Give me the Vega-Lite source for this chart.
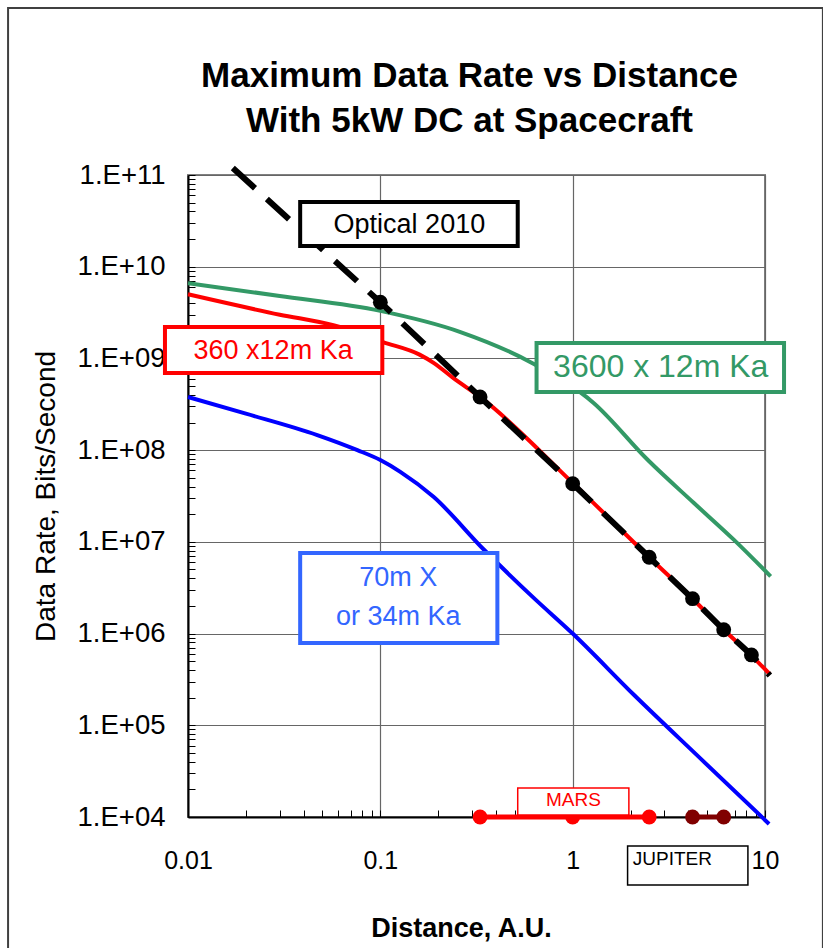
{
  "$schema": "https://vega.github.io/schema/vega-lite/v6.json",
  "width": 577,
  "height": 642,
  "autosize": {"type": "none"},
  "padding": {"left": 188, "top": 175, "right": 58, "bottom": 131},
  "background": "white",
  "config": {
    "font": "Liberation Sans",
    "view": {"stroke": "#808080", "strokeWidth": 2}
  },
  "title": {
    "text": ["Maximum Data Rate vs Distance", "With 5kW DC at Spacecraft"],
    "font": "Liberation Sans",
    "fontSize": 35,
    "fontWeight": "bold",
    "color": "black",
    "anchor": "middle",
    "frame": "group",
    "baseline": "bottom",
    "lineHeight": 45,
    "offset": -167,
    "dx": -7
  },
  "datasets": {
    "curves": [
      {"s": "3600 x 12m Ka", "x": 0.01, "y": 6.6e9},
      {"s": "3600 x 12m Ka", "x": 0.03, "y": 4.8e9},
      {"s": "3600 x 12m Ka", "x": 0.1, "y": 3.3e9},
      {"s": "3600 x 12m Ka", "x": 0.261, "y": 1.94e9},
      {"s": "3600 x 12m Ka", "x": 0.604, "y": 9.1e8},
      {"s": "3600 x 12m Ka", "x": 1.285, "y": 3.27e8},
      {"s": "3600 x 12m Ka", "x": 2.46, "y": 7.8e7},
      {"s": "3600 x 12m Ka", "x": 4.27, "y": 2.65e7},
      {"s": "3600 x 12m Ka", "x": 6.9, "y": 1.05e7},
      {"s": "3600 x 12m Ka", "x": 10.7, "y": 4.2e6},
      {"s": "70m X or 34m Ka", "x": 0.01, "y": 3.8e8},
      {"s": "70m X or 34m Ka", "x": 0.02, "y": 2.5e8},
      {"s": "70m X or 34m Ka", "x": 0.047, "y": 1.46e8},
      {"s": "70m X or 34m Ka", "x": 0.076, "y": 1.0e8},
      {"s": "70m X or 34m Ka", "x": 0.1, "y": 7.8e7},
      {"s": "70m X or 34m Ka", "x": 0.127, "y": 5.8e7},
      {"s": "70m X or 34m Ka", "x": 0.189, "y": 3.1e7},
      {"s": "70m X or 34m Ka", "x": 0.344, "y": 8.3e6},
      {"s": "70m X or 34m Ka", "x": 0.627, "y": 2.45e6},
      {"s": "70m X or 34m Ka", "x": 1, "y": 1.0e6},
      {"s": "70m X or 34m Ka", "x": 2.08, "y": 2.15e5},
      {"s": "70m X or 34m Ka", "x": 4.64, "y": 4.3e4},
      {"s": "70m X or 34m Ka", "x": 10.5, "y": 8.4e3},
      {"s": "360 x12m Ka", "x": 0.01, "y": 5.0e9},
      {"s": "360 x12m Ka", "x": 0.03, "y": 3.0e9},
      {"s": "360 x12m Ka", "x": 0.057, "y": 2.3e9},
      {"s": "360 x12m Ka", "x": 0.104, "y": 1.5e9},
      {"s": "360 x12m Ka", "x": 0.16, "y": 1.1e9},
      {"s": "360 x12m Ka", "x": 0.19, "y": 8.9e8},
      {"s": "360 x12m Ka", "x": 0.24, "y": 6.1e8},
      {"s": "360 x12m Ka", "x": 0.33, "y": 3.8e8},
      {"s": "360 x12m Ka", "x": 1, "y": 4.4e7},
      {"s": "360 x12m Ka", "x": 2.5, "y": 6.8e6},
      {"s": "360 x12m Ka", "x": 4.2, "y": 2.4e6},
      {"s": "360 x12m Ka", "x": 6.1, "y": 1.1e6},
      {"s": "360 x12m Ka", "x": 8.4, "y": 5.9e5},
      {"s": "360 x12m Ka", "x": 10.6, "y": 3.6e5}
    ],
    "optical": [
      {"x": 0.0171, "y": 1.19e11},
      {"x": 0.1, "y": 4.1e9},
      {"x": 0.33, "y": 3.8e8},
      {"x": 1, "y": 4.3e7},
      {"x": 2.5, "y": 6.8e6},
      {"x": 4.2, "y": 2.4e6},
      {"x": 6.1, "y": 1.1e6},
      {"x": 8.5, "y": 5.85e5},
      {"x": 10.6, "y": 3.5e5}
    ],
    "dots": [
      {"x": 0.1, "y": 4.1e9},
      {"x": 0.33, "y": 3.8e8},
      {"x": 1, "y": 4.3e7},
      {"x": 2.5, "y": 6.8e6},
      {"x": 4.2, "y": 2.4e6},
      {"x": 6.1, "y": 1.1e6},
      {"x": 8.5, "y": 5.85e5}
    ],
    "planets": [
      {"s": "Mars", "x": 0.33, "y": 1e4},
      {"s": "Mars", "x": 1, "y": 1e4},
      {"s": "Mars", "x": 2.5, "y": 1e4},
      {"s": "Jupiter", "x": 4.2, "y": 1e4},
      {"s": "Jupiter", "x": 6.1, "y": 1e4}
    ]
  },
  "encoding": {
    "x": {
      "field": "x",
      "type": "quantitative",
      "scale": {"type": "log", "domain": [0.01, 10], "nice": false},
      "axis": {
        "title": "Distance, A.U.",
        "values": [0.01, 0.02, 0.03, 0.04, 0.05, 0.06, 0.07, 0.08, 0.09, 0.1, 0.2, 0.3, 0.4, 0.5, 0.6, 0.7, 0.8, 0.9, 1, 2, 3, 4, 5, 6, 7, 8, 9, 10],
        "labelExpr": "abs(log(datum.value)/LN10 - round(log(datum.value)/LN10)) < 0.001 ? '' + datum.value : ''",
        "labelOverlap": false,
        "labelFlush": false,
        "labelFont": "Liberation Sans",
        "labelFontSize": 25,
        "labelColor": "black",
        "labelPadding": 38,
        "grid": true,
        "gridColor": "#666666",
        "gridWidth": 1.2,
        "gridOpacity": {"condition": {"test": "abs(log(datum.value)/LN10 - round(log(datum.value)/LN10)) < 0.001", "value": 1}, "value": 0},
        "tickSize": -7,
        "tickColor": "black",
        "tickWidth": 1,
        "domainColor": "black",
        "domainWidth": 2,
        "titleFont": "Liberation Sans",
        "titleFontSize": 27,
        "titleFontWeight": "bold",
        "titleColor": "black",
        "titlePadding": 42,
        "titleX": 273
      }
    },
    "y": {
      "field": "y",
      "type": "quantitative",
      "scale": {"type": "log", "domain": [1e4, 1e11], "nice": false},
      "axis": {
        "title": "Data Rate, Bits/Second",
        "values": [1e4, 2e4, 3e4, 4e4, 5e4, 6e4, 7e4, 8e4, 9e4, 1e5, 2e5, 3e5, 4e5, 5e5, 6e5, 7e5, 8e5, 9e5, 1e6, 2e6, 3e6, 4e6, 5e6, 6e6, 7e6, 8e6, 9e6, 1e7, 2e7, 3e7, 4e7, 5e7, 6e7, 7e7, 8e7, 9e7, 1e8, 2e8, 3e8, 4e8, 5e8, 6e8, 7e8, 8e8, 9e8, 1e9, 2e9, 3e9, 4e9, 5e9, 6e9, 7e9, 8e9, 9e9, 1e10, 2e10, 3e10, 4e10, 5e10, 6e10, 7e10, 8e10, 9e10, 1e11],
        "labelExpr": "abs(log(datum.value)/LN10 - round(log(datum.value)/LN10)) < 0.001 ? '1.E+' + (round(log(datum.value)/LN10) < 10 ? '0' : '') + round(log(datum.value)/LN10) : ''",
        "labelOverlap": false,
        "labelFlush": false,
        "labelFont": "Liberation Sans",
        "labelFontSize": 27.5,
        "labelColor": "black",
        "labelPadding": 30,
        "grid": true,
        "gridColor": "#666666",
        "gridWidth": 1.2,
        "gridOpacity": {"condition": {"test": "abs(log(datum.value)/LN10 - round(log(datum.value)/LN10)) < 0.001", "value": 1}, "value": 0},
        "tickSize": -7,
        "tickColor": "black",
        "tickWidth": 1,
        "domainColor": "black",
        "domainWidth": 2,
        "titleFont": "Liberation Sans",
        "titleFontSize": 28,
        "titleFontWeight": "normal",
        "titleColor": "black",
        "titlePadding": 17
      }
    }
  },
  "layer": [
    {
      "data": {"values": [{"x": 0.00116, "x2": 20.0, "y": 6.6e12, "y2": 300}]},
      "mark": {"type": "rect", "fillOpacity": 0, "stroke": "#404040", "strokeWidth": 2},
      "encoding": {"x2": {"field": "x2"}, "y2": {"field": "y2"}}
    },
    {
      "data": {"name": "curves"},
      "mark": {"type": "line", "strokeWidth": 4, "interpolate": "monotone"},
      "encoding": {
        "color": {
          "field": "s",
          "type": "nominal",
          "scale": {"domain": ["3600 x 12m Ka", "70m X or 34m Ka", "360 x12m Ka", "Mars", "Jupiter"], "range": ["#339966", "#0000ff", "#ff0000", "#ff0000", "#800000"]},
          "legend": null
        }
      }
    },
    {
      "data": {"name": "optical"},
      "mark": {"type": "line", "color": "black", "strokeWidth": 6, "strokeDash": [30, 16]},
      "encoding": {}
    },
    {
      "data": {"name": "dots"},
      "mark": {"type": "point", "filled": true, "color": "black", "size": 220, "opacity": 1},
      "encoding": {}
    },
    {
      "data": {"name": "planets"},
      "mark": {"type": "line", "strokeWidth": 5},
      "encoding": {
        "color": {
          "field": "s",
          "type": "nominal",
          "scale": {"domain": ["3600 x 12m Ka", "70m X or 34m Ka", "360 x12m Ka", "Mars", "Jupiter"], "range": ["#339966", "#0000ff", "#ff0000", "#ff0000", "#800000"]},
          "legend": null
        }
      }
    },
    {
      "data": {"name": "planets"},
      "mark": {"type": "point", "filled": true, "size": 220, "opacity": 1},
      "encoding": {
        "color": {
          "field": "s",
          "type": "nominal",
          "scale": {"domain": ["3600 x 12m Ka", "70m X or 34m Ka", "360 x12m Ka", "Mars", "Jupiter"], "range": ["#339966", "#0000ff", "#ff0000", "#ff0000", "#800000"]},
          "legend": null
        }
      }
    },
    {
      "data": {"values": [{"x": 0.0383, "x2": 0.518, "y": 5.08e10, "y2": 1.68e10}]},
      "mark": {"type": "rect", "fill": "white", "stroke": "black", "strokeWidth": 4},
      "encoding": {"x2": {"field": "x2"}, "y2": {"field": "y2"}}
    },
    {
      "data": {"values": [{"x": 0.1416, "y": 2.85e10, "t": "Optical 2010"}]},
      "mark": {"type": "text", "font": "Liberation Sans", "fontSize": 27, "color": "black", "baseline": "middle", "align": "center"},
      "encoding": {"text": {"field": "t"}}
    },
    {
      "data": {"values": [{"x": 0.00759, "x2": 0.1024, "y": 2.2e9, "y2": 6.93e8}]},
      "mark": {"type": "rect", "fill": "white", "stroke": "#ff0000", "strokeWidth": 4},
      "encoding": {"x2": {"field": "x2"}, "y2": {"field": "y2"}}
    },
    {
      "data": {"values": [{"x": 0.0277, "y": 1.205e9, "t": "360 x12m Ka"}]},
      "mark": {"type": "text", "font": "Liberation Sans", "fontSize": 27, "color": "#ff0000", "baseline": "middle", "align": "center"},
      "encoding": {"text": {"field": "t"}}
    },
    {
      "data": {"values": [{"x": 0.649, "x2": 12.56, "y": 1.47e9, "y2": 4.31e8}]},
      "mark": {"type": "rect", "fill": "white", "stroke": "#339966", "strokeWidth": 4},
      "encoding": {"x2": {"field": "x2"}, "y2": {"field": "y2"}}
    },
    {
      "data": {"values": [{"x": 2.87, "y": 8.05e8, "t": "3600 x 12m Ka"}]},
      "mark": {"type": "text", "font": "Liberation Sans", "fontSize": 32, "color": "#339966", "baseline": "middle", "align": "center"},
      "encoding": {"text": {"field": "t"}}
    },
    {
      "data": {"values": [{"x": 0.0383, "x2": 0.406, "y": 7.55e6, "y2": 7.87e5}]},
      "mark": {"type": "rect", "fill": "white", "stroke": "#3366ff", "strokeWidth": 4},
      "encoding": {"x2": {"field": "x2"}, "y2": {"field": "y2"}}
    },
    {
      "data": {"values": [{"x": 0.124, "y": 4.03e6, "t": "70m  X"}, {"x": 0.124, "y": 1.51e6, "t": "or 34m Ka"}]},
      "mark": {"type": "text", "font": "Liberation Sans", "fontSize": 27, "color": "#3366ff", "baseline": "middle", "align": "center"},
      "encoding": {"text": {"field": "t"}}
    },
    {
      "data": {"values": [{"x": 0.518, "x2": 1.96, "y": 2.07e4, "y2": 1.05e4}]},
      "mark": {"type": "rect", "fill": "white", "stroke": "#ff0000", "strokeWidth": 1.5},
      "encoding": {"x2": {"field": "x2"}, "y2": {"field": "y2"}}
    },
    {
      "data": {"values": [{"x": 1.01, "y": 1.53e4, "t": "MARS"}]},
      "mark": {"type": "text", "font": "Liberation Sans", "fontSize": 19, "color": "#ff0000", "baseline": "middle", "align": "center"},
      "encoding": {"text": {"field": "t"}}
    },
    {
      "data": {"values": [{"x": 1.93, "x2": 8.15, "y": 4.82e3, "y2": 1.81e3}]},
      "mark": {"type": "rect", "fill": "white", "stroke": "black", "strokeWidth": 1.5},
      "encoding": {"x2": {"field": "x2"}, "y2": {"field": "y2"}}
    },
    {
      "data": {"values": [{"x": 2.053, "y": 3.48e3, "t": "JUPITER"}]},
      "mark": {"type": "text", "font": "Liberation Sans", "fontSize": 19, "color": "black", "baseline": "middle", "align": "left"},
      "encoding": {"text": {"field": "t"}}
    }
  ]
}
